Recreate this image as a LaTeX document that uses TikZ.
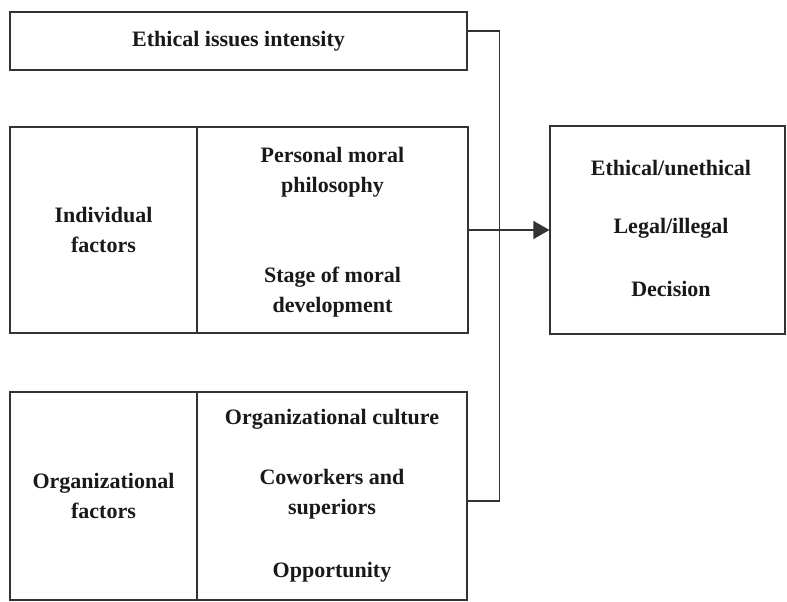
\documentclass[tikz,border=0pt]{standalone}
\usepackage{fontspec}
\setmainfont{Liberation Serif}
\usetikzlibrary{arrows.meta}
\tikzset{
  cell/.style={draw=black!80, line width=1.2pt, inner sep=0pt},
  lbl/.style={font=\bfseries\fontsize{22}{30}\selectfont, align=center, text=black!90},
  link/.style={draw=black!80, line width=1.2pt}
}

\begin{document}
\begin{tikzpicture}[x=1pt, y=1pt]
		%%%%% START %%%%%
		\useasboundingbox (0, 0) rectangle (787, 602);
		
		\node[cell, lbl, minimum width=457, minimum height=58] (issues) at (238.5, 561) {Ethical issues intensity};
		
		\node[cell, lbl, minimum width=187, minimum height=206] (indiv) at (103.5, 372) {Individual\\factors};
		\node[cell, minimum width=271, minimum height=206] (indivR) at (332.5, 372) {};
		\node[lbl] (philo) at (332.5, 430) {Personal moral\\philosophy};
		\node[lbl] (stage) at (332.5, 310) {Stage of moral\\development};
		
		\node[cell, lbl, minimum width=187, minimum height=208] (org) at (103.5, 106) {Organizational\\factors};
		\node[cell, minimum width=270, minimum height=208] (orgR) at (332, 106) {};
		\node[lbl] (culture) at (332, 183) {Organizational culture};
		\node[lbl] (cowork) at (332, 108) {Coworkers and\\superiors};
		\node[lbl] (oppor) at (332, 30) {Opportunity};
		
		\node[cell, minimum width=235, minimum height=208] (dec) at (667.5, 372) {};
		\node[lbl] (ethic) at (671, 434) {Ethical/unethical};
		\node[lbl] (legal) at (671, 374) {Legal/illegal};
		\node[lbl] (decis) at (671, 313) {Decision};
		
		\draw[link] ([yshift=10pt]issues.east) -- ++(32, 0) |- ([yshift=-5pt]orgR.east);
		\draw[link, -{Triangle[length=16pt, width=18pt]}] (indivR.east) -- (dec.west);
		
		%%%%% END %%%%%
\end{tikzpicture}
\end{document}
